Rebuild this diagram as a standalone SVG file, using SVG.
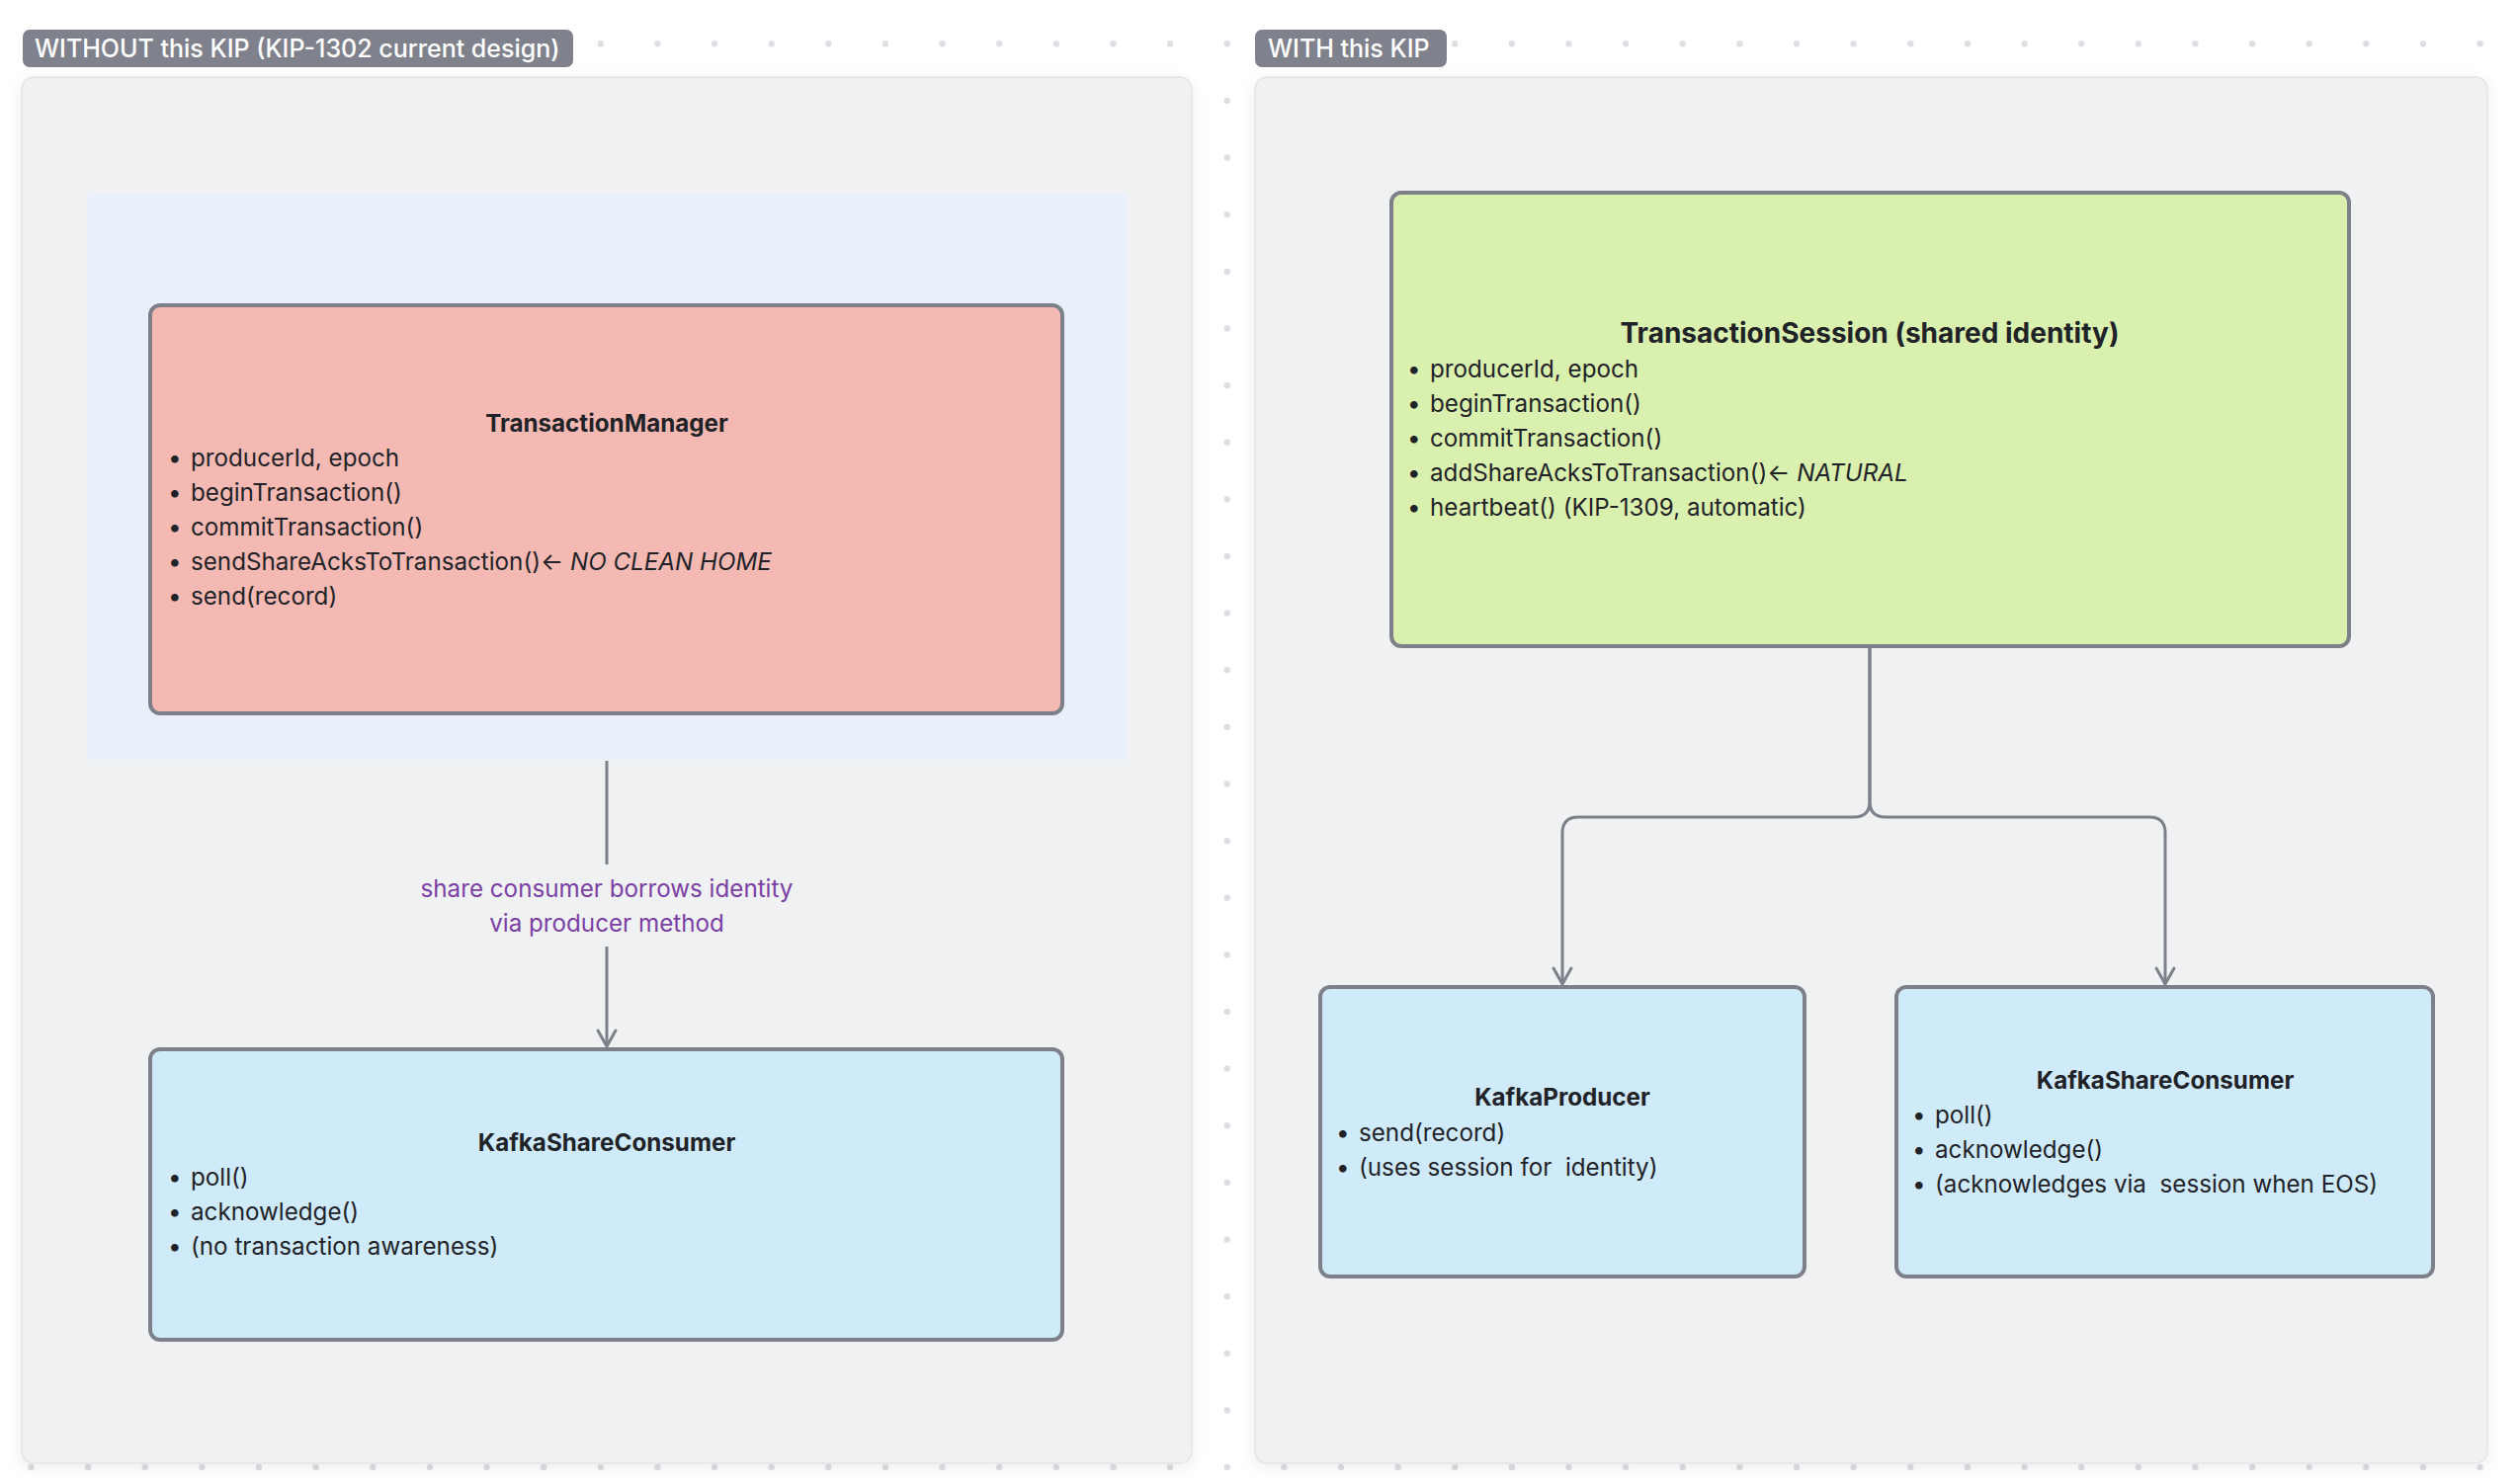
<svg xmlns="http://www.w3.org/2000/svg" width="2548" height="1502" viewBox="0 0 2548 1502">
<defs>
<pattern id="dots" patternUnits="userSpaceOnUse" x="2.69" y="15.49" width="57.63" height="57.63">
<circle cx="28.815" cy="28.815" r="3.2" fill="#dcdee3"/>
</pattern>
<filter id="shadow" x="-5%" y="-5%" width="110%" height="110%">
<feDropShadow dx="0" dy="4" stdDeviation="8" flood-color="#000" flood-opacity="0.07"/>
</filter>
<marker id="arrow" markerUnits="userSpaceOnUse" markerWidth="20" markerHeight="20" refX="0" refY="0" orient="auto" overflow="visible">
<path d="M-16,-9 L0,0 L-16,9" fill="none" stroke="#7d8089" stroke-width="3" stroke-linecap="round" stroke-linejoin="round"/>
</marker>
</defs>
<style>
text { font-family: Inter, "Noto Sans", "Liberation Sans", sans-serif; fill: #1f2328; font-size: 24.2px; }
.pill { fill: #7f828c; }
.pilltxt { fill: #ffffff; font-weight: 500; font-size: 25px; }
.panel { fill: #f0f1f3; stroke: #e3e4e7; stroke-width: 1.5; filter: url(#shadow); }
.box { stroke: #7d8089; stroke-width: 4; }
.red { fill: #f4b9b2; }
.green { fill: #daf0ae; }
.blue { fill: #cfeaf9; }
.title { font-weight: 700; text-anchor: middle; }
.em { font-style: italic; }
.lbl { fill: #7b3fa3; text-anchor: middle; }
.conn { fill: none; stroke: #7d8089; stroke-width: 3; }
</style>
<rect x="0" y="0" width="2548" height="1502" fill="#ffffff"/>
<rect x="0" y="0" width="2548" height="1502" fill="url(#dots)"/>

<g id="panel-without">
<rect class="panel" x="22" y="78" width="1184" height="1403" rx="12"/>
<rect class="pill" x="23" y="30" width="557" height="38" rx="7"/>
<text class="pilltxt" x="35" y="57.5">WITHOUT this KIP (KIP-1302 current design)</text>
<rect x="89" y="195" width="1052" height="574" fill="#e9f0fb"/>
</g>

<g id="panel-with">
<rect class="panel" x="1270" y="78" width="1247" height="1403" rx="12"/>
<rect class="pill" x="1270" y="30" width="194" height="38" rx="7"/>
<text class="pilltxt" x="1283" y="57.5">WITH this KIP</text>
</g>

<g id="connectors">
<line class="conn" x1="614" y1="770" x2="614" y2="875"/>
<line class="conn" x1="614" y1="958" x2="614" y2="1059" marker-end="url(#arrow)"/>
<text class="lbl" x="614" y="908">share consumer borrows identity</text>
<text class="lbl" x="614" y="943">via producer method</text>
<path class="conn" d="M1892,654 V811 Q1892,827 1876,827 H1597 Q1581,827 1581,843 V996" marker-end="url(#arrow)"/>
<path class="conn" d="M1892,654 V811 Q1892,827 1908,827 H2175 Q2191,827 2191,843 V996" marker-end="url(#arrow)"/>
</g>

<g id="node-transactionmanager">
<rect class="box red" x="152" y="309" width="923" height="413" rx="10"/>
<text class="title" x="614" y="437">TransactionManager</text>
<text x="170" y="472">•</text><text x="193" y="472">producerId, epoch</text>
<text x="170" y="507">•</text><text x="193" y="507">beginTransaction()</text>
<text x="170" y="542">•</text><text x="193" y="542">commitTransaction()</text>
<text x="170" y="577">•</text><text x="193" y="577">sendShareAcksToTransaction()← <tspan class="em">NO CLEAN HOME</tspan></text>
<text x="170" y="612">•</text><text x="193" y="612">send(record)</text>
</g>

<g id="node-sharedconsumer-left">
<rect class="box blue" x="152" y="1062" width="923" height="294" rx="10"/>
<text class="title" x="614" y="1165">KafkaShareConsumer</text>
<text x="170" y="1200">•</text><text x="193" y="1200">poll()</text>
<text x="170" y="1235">•</text><text x="193" y="1235">acknowledge()</text>
<text x="170" y="1270">•</text><text x="193" y="1270">(no transaction awareness)</text>
</g>

<g id="node-transactionsession">
<rect class="box green" x="1408" y="195" width="969" height="459" rx="10"/>
<text class="title" x="1892" y="347" style="font-size:28px">TransactionSession (shared identity)</text>
<text x="1424" y="382">•</text><text x="1447" y="382">producerId, epoch</text>
<text x="1424" y="417">•</text><text x="1447" y="417">beginTransaction()</text>
<text x="1424" y="452">•</text><text x="1447" y="452">commitTransaction()</text>
<text x="1424" y="487">•</text><text x="1447" y="487">addShareAcksToTransaction()← <tspan class="em">NATURAL</tspan></text>
<text x="1424" y="522">•</text><text x="1447" y="522">heartbeat() (KIP-1309, automatic)</text>
</g>

<g id="node-kafkaproducer">
<rect class="box blue" x="1336" y="999" width="490" height="293" rx="10"/>
<text class="title" x="1581" y="1119">KafkaProducer</text>
<text x="1352" y="1155">•</text><text x="1375" y="1155">send(record)</text>
<text x="1352" y="1190">•</text><text x="1375" y="1190" xml:space="preserve">(uses session for  identity)</text>
</g>

<g id="node-sharedconsumer-right">
<rect class="box blue" x="1919" y="999" width="543" height="293" rx="10"/>
<text class="title" x="2191" y="1102">KafkaShareConsumer</text>
<text x="1935" y="1137">•</text><text x="1958" y="1137">poll()</text>
<text x="1935" y="1172">•</text><text x="1958" y="1172">acknowledge()</text>
<text x="1935" y="1207">•</text><text x="1958" y="1207" xml:space="preserve">(acknowledges via  session when EOS)</text>
</g>
</svg>
